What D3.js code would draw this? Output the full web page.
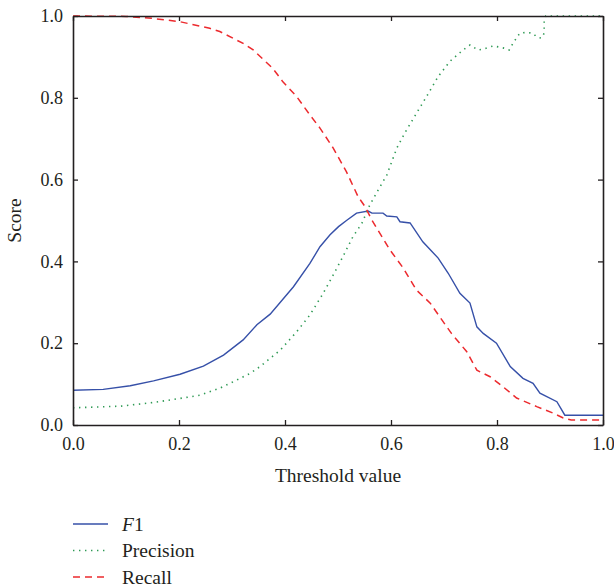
<!DOCTYPE html>
<html>
<head>
<meta charset="utf-8">
<script src="https://cdn.jsdelivr.net/npm/d3@7"></script>
<style>
  body { margin: 0; background: #fff; }
  svg text { font-family: "Liberation Serif", "DejaVu Serif", serif; fill: #231f20; }
</style>
</head>
<body>
<div id="chart"></div>
<script>
// values
const f1Threshold = [0, .057, .108, .152, .202, .246, .284, .321, .347, .372, .416, .447, .466, .485, .501, .516, .535, .557, .564, .585, .592, .611, .617, .636, .660, .689, .708, .730, .749, .762, .774, .799, .825, .849, .868, .881, .913, .928, 1.0];
const f1Score = [.085, .087, .096, .108, .124, .144, .171, .208, .245, .271, .338, .395, .436, .465, .485, .500, .518, .523, .518, .518, .511, .509, .497, .494, .448, .408, .371, .322, .298, .240, .224, .200, .143, .114, .102, .078, .057, .024, .024];

const precisionThreshold = [0, .089, .152, .202, .240, .277, .309, .334, .353, .391, .422, .447, .472, .491, .509, .528, .545, .560, .576, .592, .611, .626, .648, .667, .689, .711, .736, .749, .764, .774, .793, .815, .823, .831, .843, .856, .867, .876, .884, .889, .889, .892, 1.0];
const precisionScore = [.042, .046, .055, .065, .073, .090, .110, .126, .143, .183, .228, .269, .322, .367, .411, .460, .493, .538, .575, .611, .677, .714, .762, .803, .852, .889, .917, .929, .917, .919, .927, .921, .917, .935, .958, .960, .958, .948, .946, .958, .990, 1.0, 1.0];

const recallThreshold = [0, .1, .151, .202, .258, .277, .321, .340, .377, .396, .422, .447, .466, .491, .516, .538, .551, .564, .585, .598, .623, .648, .674, .696, .714, .743, .762, .787, .811, .837, .875, .906, .925, .94, 1.0];
const recallScore = [1.0, .999, .994, .986, .970, .962, .933, .917, .872, .839, .803, .758, .726, .677, .619, .558, .534, .501, .456, .428, .384, .330, .298, .257, .224, .179, .134, .118, .094, .066, .045, .029, .017, .012, .012];

const tickValues = [0, 0.2, 0.4, 0.6, 0.8, 1.0];

const serif = "'Liberation Serif', 'DejaVu Serif', serif";

// set the dimensions and margins of the graph
const margin = {top: 16, right: 11, bottom: 163, left: 73},
    width = 614 - margin.left - margin.right,
    height = 588 - margin.top - margin.bottom;

const svgRoot = d3.select("#chart")
  .append("svg")
    .attr("width", 614)
    .attr("height", 588)
    .attr("font-family", serif);

const svg = svgRoot.append("g")
    .attr("transform", `translate(${margin.left},${margin.top})`);

const x = d3.scaleLinear().domain([0, 1]).range([0, width]);
const y = d3.scaleLinear().domain([0, 1]).range([height, 0]);

const series = [
  {name: "F1", xs: f1Threshold, ys: f1Score, color: "#3650a8", dash: null, width: 1.4},
  {name: "Precision", xs: precisionThreshold, ys: precisionScore, color: "#2f9a55", dash: "1.4,4.6", width: 1.6},
  {name: "Recall", xs: recallThreshold, ys: recallScore, color: "#ec2a2e", dash: "7,5", width: 1.5}
];

const line = d3.line()
  .x(d => x(d[0]))
  .y(d => y(d[1]));

// draw the lines
series.forEach(s => {
  svg.append("path")
    .datum(s.xs.map((v, i) => [v, s.ys[i]]))
    .attr("fill", "none")
    .attr("stroke", s.color)
    .attr("stroke-width", s.width)
    .attr("stroke-dasharray", s.dash)
    .attr("d", line);
});

// axes with inward ticks on all four sides
const fmt = d3.format(".1f");
svg.append("g")
  .attr("transform", `translate(0,${height})`)
  .call(d3.axisBottom(x).tickValues(tickValues).tickFormat(fmt).tickSizeInner(-5).tickSizeOuter(0).tickPadding(12));
svg.append("g")
  .call(d3.axisLeft(y).tickValues(tickValues).tickFormat(fmt).tickSizeInner(-5).tickSizeOuter(0).tickPadding(10));
svg.append("g")
  .call(d3.axisTop(x).tickValues(tickValues).tickFormat("").tickSizeInner(-5).tickSizeOuter(0));
svg.append("g")
  .attr("transform", `translate(${width},0)`)
  .call(d3.axisRight(y).tickValues(tickValues).tickFormat("").tickSizeInner(-5).tickSizeOuter(0));

svg.selectAll("g").attr("font-family", serif);
svg.selectAll(".domain").attr("stroke", "#231f20").attr("stroke-width", 1.6);
svg.selectAll(".tick line").attr("stroke", "#231f20").attr("stroke-width", 1.3);
svg.selectAll(".tick text").attr("font-size", 18).attr("fill", "#231f20");

// axis labels
svg.append("text")
  .attr("x", width / 2)
  .attr("y", height + 57)
  .attr("text-anchor", "middle")
  .attr("font-size", 19.5)
  .text("Threshold value");

svg.append("text")
  .attr("transform", `translate(${-52},${height / 2}) rotate(-90)`)
  .attr("text-anchor", "middle")
  .attr("font-size", 19.5)
  .text("Score");

// legend
const legend = svgRoot.append("g").attr("transform", "translate(73,524)");
series.forEach((s, i) => {
  const g = legend.append("g").attr("transform", `translate(0,${i * 26.5})`);
  g.append("line")
    .attr("x1", 0).attr("x2", 35)
    .attr("stroke", s.color)
    .attr("stroke-width", s.width)
    .attr("stroke-dasharray", s.dash);
  const t = g.append("text")
    .attr("x", 49)
    .attr("y", 6.5)
    .attr("font-size", 19.5);
  if (s.name === "F1") {
    t.append("tspan").attr("font-style", "italic").text("F");
    t.append("tspan").text("1");
  } else {
    t.text(s.name);
  }
});
</script>
</body>
</html>
